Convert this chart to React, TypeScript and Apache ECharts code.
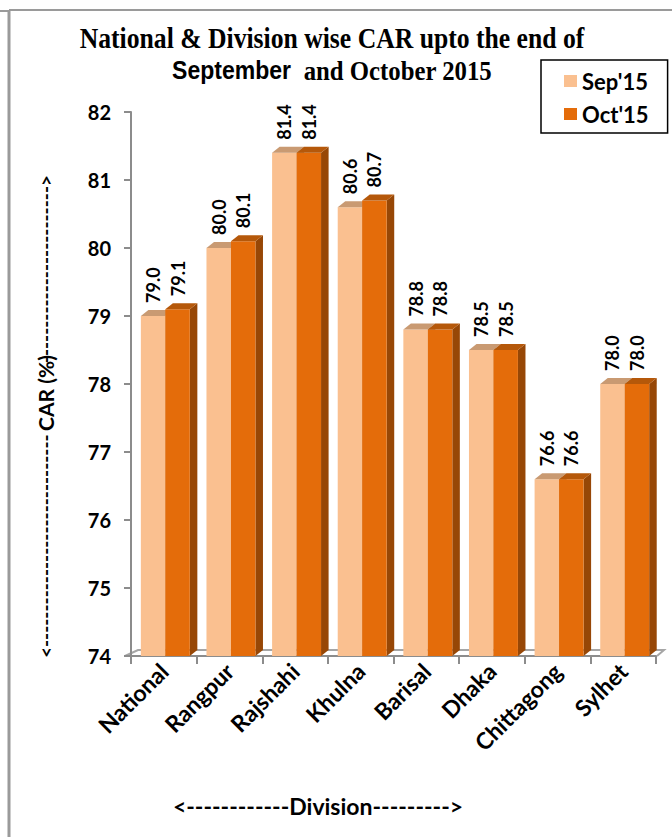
import React, { useEffect, useRef } from "react";
import * as echarts from "echarts";

const categories = ["National", "Rangpur", "Rajshahi", "Khulna", "Barisal", "Dhaka", "Chittagong", "Sylhet"];
const sep15 = [79.0, 80.0, 81.4, 80.6, 78.8, 78.5, 76.6, 78.0];
const oct15 = [79.1, 80.1, 81.4, 80.7, 78.8, 78.5, 76.6, 78.0];
const seriesNames = ["Sep'15", "Oct'15"];
const Y_MIN = 74;
const Y_MAX = 82;
const Y_INTERVAL = 1;

const W = 672;
const H = 837;
const GL = 131;
const GR = 16;
const GT = 112;
const GBOT = 181;
const GB = H - GBOT;

const BAR_RATIO = 0.373;
const DEPTH_RATIO = 0.115;
const DEPTH_Y = 6;
const LABEL_GAP = 13;

const LIGHT = { front: "#FAC090", top: "#C99A72", side: "#C99A72" };
const DARK = { front: "#E46C0A", top: "#B5580A", side: "#974706" };

const SANS = "Lato, 'Open Sans', sans-serif";
const SERIF = "'Liberation Serif', 'Times New Roman', serif";

function makeRenderItem(offsetRatio: number, c: { front: string; top: string; side: string }) {
  return (params: any, api: any) => {
    const idx = api.value(0);
    const val = api.value(1);
    const top = api.coord([idx, val]);
    const base = api.coord([idx, Y_MIN]);
    const band = api.size([1, 0])[0];
    const x0 = top[0] + offsetRatio * band;
    const w = BAR_RATIO * band;
    const dx = DEPTH_RATIO * band;
    const dy = DEPTH_Y;
    const yT = top[1];
    const yB = base[1];
    return {
      type: "group",
      children: [
        {
          type: "polygon",
          shape: { points: [[x0 + w, yT], [x0 + w + dx, yT - dy], [x0 + w + dx, yB - dy], [x0 + w, yB]] },
          style: { fill: c.side },
        },
        { type: "rect", shape: { x: x0, y: yT, width: w, height: yB - yT }, style: { fill: c.front } },
        {
          type: "polygon",
          shape: { points: [[x0, yT], [x0 + dx, yT - dy], [x0 + w + dx, yT - dy], [x0 + w, yT]] },
          style: { fill: c.top },
        },
        {
          type: "text",
          x: x0 + w / 2,
          y: yT - LABEL_GAP,
          rotation: Math.PI / 2,
          style: {
            text: Number(val).toFixed(1),
            fill: "#000",
            fontSize: 18,
            fontWeight: "bold",
            fontFamily: SANS,
            align: "left",
            verticalAlign: "middle",
          },
        },
      ],
    };
  };
}

export default function App() {
  const ref = useRef<HTMLDivElement>(null);
  useEffect(() => {
    if (!ref.current) return;
    const chart = echarts.init(ref.current, null, { renderer: "svg" });
    const dashesBottom = "<" + "-".repeat(30);
    const dashesTop = "-".repeat(25) + ">";
    chart.setOption({
      animation: false,
      backgroundColor: "#fff",
      grid: { left: GL, right: GR, top: GT, bottom: GBOT },
      legend: {
        orient: "vertical",
        left: 541,
        top: 60,
        data: [
          { name: seriesNames[0], icon: "rect" },
          { name: seriesNames[1], icon: "rect" },
        ],
        itemWidth: 13,
        itemHeight: 12,
        itemGap: 11,
        padding: [10, 19, 8, 23],
        borderColor: "#000",
        borderWidth: 1.5,
        textStyle: { fontSize: 22, fontWeight: "bold", fontFamily: SANS, color: "#000", lineHeight: 22 },
      },
      xAxis: {
        type: "category",
        data: categories,
        axisLine: { show: true, lineStyle: { color: "#8c8c8c", width: 2 } },
        axisTick: { show: true, length: 8, alignWithLabel: false, interval: 0, lineStyle: { color: "#8c8c8c", width: 2 } },
        axisLabel: {
          rotate: 45,
          interval: 0,
          margin: 11,
          color: "#000",
          fontSize: 23,
          fontWeight: "bold",
          fontFamily: SANS,
        },
        splitLine: { show: false },
      },
      yAxis: {
        type: "value",
        min: Y_MIN,
        max: Y_MAX,
        interval: Y_INTERVAL,
        axisLine: { show: true, lineStyle: { color: "#8c8c8c", width: 2 } },
        axisTick: { show: true, length: 7, lineStyle: { color: "#8c8c8c", width: 2 } },
        axisLabel: { margin: 20, color: "#000", fontSize: 20, fontWeight: "bold", fontFamily: SANS },
        splitLine: { show: false },
      },
      series: [
        {
          type: "custom",
          name: seriesNames[0],
          renderItem: makeRenderItem(-0.35, LIGHT),
          itemStyle: { color: LIGHT.front },
          encode: { x: 0, y: 1 },
          data: sep15.map((v, i) => [i, v]),
          z: 3,
        },
        {
          type: "custom",
          name: seriesNames[1],
          renderItem: makeRenderItem(0.023, DARK),
          itemStyle: { color: DARK.front },
          encode: { x: 0, y: 1 },
          data: oct15.map((v, i) => [i, v]),
          z: 4,
        },
      ],
      graphic: [
        // outer frame
        { type: "line", shape: { x1: 0, y1: 11, x2: 9, y2: 11 }, style: { stroke: "#9a9a9a", lineWidth: 2 }, z: 0 },
        { type: "line", shape: { x1: 9, y1: 10, x2: 9, y2: H }, style: { stroke: "#9a9a9a", lineWidth: 3 }, z: 0 },
        { type: "line", shape: { x1: 9, y1: 10, x2: W, y2: 10 }, style: { stroke: "#9a9a9a", lineWidth: 2 }, z: 0 },
        // 3D floor
        {
          type: "polyline",
          shape: { points: [[GL - 6, GB], [GL + 7, GB - 6], [W - GR + 8, GB - 6], [W - GR + 1, GB]] },
          style: { stroke: "#a6a6a6", lineWidth: 2, fill: null },
          z: 0,
        },
        // title
        {
          type: "text",
          x: 332,
          y: 38,
          scaleX: 0.885,
          style: {
            text: "National & Division wise CAR upto the end of",
            fill: "#000",
            fontSize: 29,
            fontWeight: "bold",
            fontFamily: SERIF,
            align: "center",
            verticalAlign: "middle",
          },
        },
        {
          type: "text",
          x: 332,
          y: 70,
          scaleX: 0.885,
          style: {
            text: "{a|September}{b|  and October 2015}",
            fill: "#000",
            align: "center",
            verticalAlign: "middle",
            rich: {
              a: { fontSize: 26, fontWeight: "bold", fontFamily: "'Liberation Sans', Arial, sans-serif", fill: "#000" },
              b: { fontSize: 28, fontWeight: "bold", fontFamily: SERIF, fill: "#000" },
            },
          },
        },
        // y axis name
        {
          type: "text",
          x: 45,
          y: 393,
          rotation: Math.PI / 2,
          style: {
            text: "CAR (%)",
            fill: "#000",
            fontSize: 21,
            fontWeight: "bold",
            fontFamily: SANS,
            align: "center",
            verticalAlign: "middle",
          },
        },
        {
          type: "text",
          x: 45,
          y: 658,
          rotation: Math.PI / 2,
          style: {
            text: dashesBottom,
            fill: "#000",
            fontSize: 19,
            fontWeight: "bold",
            fontFamily: SANS,
            align: "left",
            verticalAlign: "middle",
          },
        },
        {
          type: "text",
          x: 45,
          y: 175,
          rotation: Math.PI / 2,
          style: {
            text: dashesTop,
            fill: "#000",
            fontSize: 19,
            fontWeight: "bold",
            fontFamily: SANS,
            align: "right",
            verticalAlign: "middle",
          },
        },
        // x axis name
        {
          type: "text",
          x: 318,
          y: 806,
          style: {
            text: "<------------Division--------->",
            fill: "#000",
            fontSize: 23,
            fontWeight: "bold",
            fontFamily: SANS,
            align: "center",
            verticalAlign: "middle",
          },
        },
      ],
    });
    return () => chart.dispose();
  }, []);
  return <div ref={ref} style={{ position: "fixed", left: 0, top: 0, width: W, height: H }} />;
}
